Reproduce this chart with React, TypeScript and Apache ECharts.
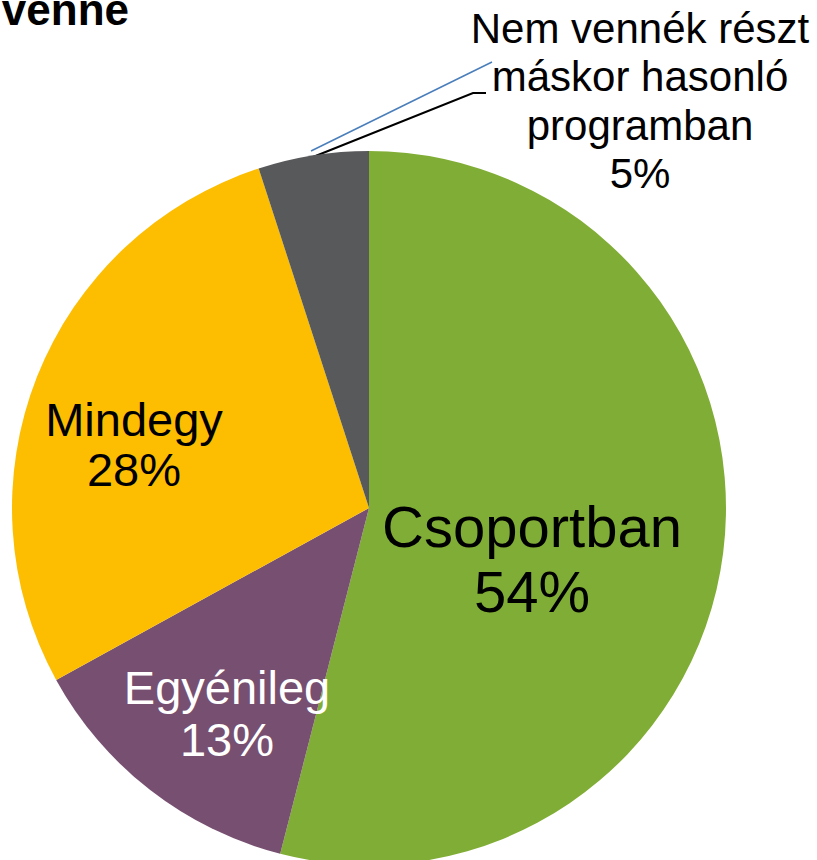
import React, { useEffect, useRef } from "react";
import * as echarts from "echarts";

const categories = ["Csoportban", "Egyénileg", "Mindegy", "Nem vennék részt\nmáskor hasonló\nprogramban"];
const values = [54, 13, 28, 5];
const colors = ["#80ad35", "#774f70", "#fdbd00", "#58595b"];
const labelColors = ["#000000", "#ffffff", "#000000", "#000000"];
const titleText = "venne";

const FONT = "'Liberation Sans', Arial, sans-serif";

export default function App() {
  const ref = useRef<HTMLDivElement>(null);
  useEffect(() => {
    if (!ref.current) return;
    const chart = echarts.init(ref.current, undefined, { renderer: "svg" });
    const labelStyles = [
      { fontSize: 58, lineHeight: 65 },
      { fontSize: 47, lineHeight: 52 },
      { fontSize: 47, lineHeight: 50 },
      { fontSize: 42, lineHeight: 48.5 },
    ];
    const labelPos: [number, number][] = [
      [532, 559],
      [227, 713],
      [134, 444],
      [640, 101],
    ];
    chart.setOption({
      animation: false,
      backgroundColor: "#ffffff",
      graphic: [
        {
          type: "text",
          x: 129,
          y: 9,
          style: {
            text: titleText,
            fontFamily: FONT,
            fontWeight: "bold",
            fontSize: 44,
            fill: "#000",
            textAlign: "right",
            textVerticalAlign: "middle",
          },
        },
        {
          type: "line",
          shape: { x1: 311, y1: 151, x2: 492, y2: 62 },
          style: { stroke: "#4a7ebb", lineWidth: 1.5 },
          z: 10,
        },
      ],
      series: [
        {
          type: "pie",
          center: [369, 508],
          radius: 357,
          startAngle: 90,
          clockwise: true,
          avoidLabelOverlap: false,
          itemStyle: { borderWidth: 0 },
          emphasis: { disabled: true },
          data: categories.map((name, i) => ({
            name,
            value: values[i],
            itemStyle: { color: colors[i] },
            label: {
              show: true,
              position: i === 3 ? "outside" : "inside",
              color: labelColors[i],
              fontFamily: FONT,
              fontSize: labelStyles[i].fontSize,
              lineHeight: labelStyles[i].lineHeight,
              align: "center",
              formatter: (p: any) => `${p.name}\n${p.value}%`,
            },
            labelLine: {
              show: i === 3,
              lineStyle: { color: "#000", width: 2 },
            },
          })),
          labelLayout: (params: any) => {
            const i = params.dataIndex;
            const res: any = {
              x: labelPos[i][0],
              y: labelPos[i][1],
              align: "center",
              verticalAlign: "middle",
            };
            if (i === 3) {
              res.labelLinePoints = [
                [313, 157],
                [473, 93],
                [486, 93],
              ];
            }
            return res;
          },
        },
      ],
    });
    return () => chart.dispose();
  }, []);
  return (
    <div
      ref={ref}
      style={{ position: "fixed", left: 0, top: 0, width: 817, height: 860 }}
    />
  );
}
